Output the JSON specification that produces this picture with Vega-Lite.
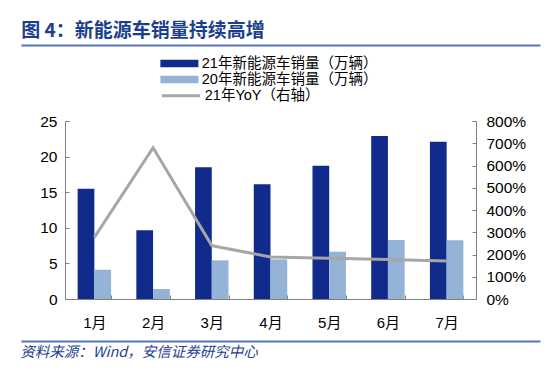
{
  "$schema": "https://vega.github.io/schema/vega-lite/v6.json",
  "padding": {"left": 18, "top": 21, "right": 13, "bottom": 5},
  "background": "white",
  "title": {"text": "图 4：新能源车销量持续高增", "anchor": "start", "fontSize": 19, "fontWeight": "bold", "color": "#1B3F8E", "font": "Noto Sans CJK SC", "offset": 2, "dx": 3},
  "spacing": 6,
  "bounds": "full",
  "align": "none",
  "columns": 1,
  "config": {"view": {"stroke": null}, "font": "Liberation Sans, Noto Sans CJK SC"},
  "datasets": {
    "bars": [
      {"month": "1月", "series": "21年新能源车销量（万辆）", "value": 15.5},
      {"month": "1月", "series": "20年新能源车销量（万辆）", "value": 4.1},
      {"month": "2月", "series": "21年新能源车销量（万辆）", "value": 9.65},
      {"month": "2月", "series": "20年新能源车销量（万辆）", "value": 1.4},
      {"month": "3月", "series": "21年新能源车销量（万辆）", "value": 18.5},
      {"month": "3月", "series": "20年新能源车销量（万辆）", "value": 5.43},
      {"month": "4月", "series": "21年新能源车销量（万辆）", "value": 16.1},
      {"month": "4月", "series": "20年新能源车销量（万辆）", "value": 5.57},
      {"month": "5月", "series": "21年新能源车销量（万辆）", "value": 18.7},
      {"month": "5月", "series": "20年新能源车销量（万辆）", "value": 6.64},
      {"month": "6月", "series": "21年新能源车销量（万辆）", "value": 22.9},
      {"month": "6月", "series": "20年新能源车销量（万辆）", "value": 8.3},
      {"month": "7月", "series": "21年新能源车销量（万辆）", "value": 22.1},
      {"month": "7月", "series": "20年新能源车销量（万辆）", "value": 8.25}
    ],
    "yoy": [
      {"month": "1月", "series": "21年YoY（右轴）", "yoy": 2.77},
      {"month": "2月", "series": "21年YoY（右轴）", "yoy": 6.8},
      {"month": "3月", "series": "21年YoY（右轴）", "yoy": 2.4},
      {"month": "4月", "series": "21年YoY（右轴）", "yoy": 1.89},
      {"month": "5月", "series": "21年YoY（右轴）", "yoy": 1.83},
      {"month": "6月", "series": "21年YoY（右轴）", "yoy": 1.78},
      {"month": "7月", "series": "21年YoY（右轴）", "yoy": 1.71}
    ]
  },
  "concat": [
    {
      "width": 475, "height": 1,
      "data": {"values": [{"a": 0}, {"a": 1}]},
      "mark": {"type": "point", "opacity": 0},
      "encoding": {
        "x": {"field": "a", "type": "quantitative", "scale": {"domain": [0, 1], "nice": false, "range": [-44, 475]}, "axis": {"orient": "top", "domainColor": "#5574B5", "domainWidth": 2, "ticks": false, "labels": false, "grid": false, "title": null}}
      }
    },
    {
      "hconcat": [
        {
          "width": 411, "height": 178,
          "layer": [
            {
              "data": {"name": "bars"},
              "mark": {"type": "bar"},
              "encoding": {
                "x": {"field": "month", "type": "nominal", "sort": ["1月","2月","3月","4月","5月","6月","7月"],
                  "scale": {"paddingInner": 0.43, "paddingOuter": 0.215},
                  "axis": {"title": null, "labelAngle": 0, "labelFontSize": 15, "labelColor": "black", "domainColor": "#7f7f7f", "tickColor": "#7f7f7f", "tickSize": -4, "tickBand": "extent", "labelPadding": 20}},
                "xOffset": {"field": "series", "type": "nominal", "sort": ["21年新能源车销量（万辆）", "20年新能源车销量（万辆）"]},
                "y": {"field": "value", "type": "quantitative", "scale": {"domain": [0, 25]},
                  "axis": {"values": [0,5,10,15,20,25], "grid": false, "labelFontSize": 15.5, "labelColor": "black", "domainColor": "#7f7f7f", "tickColor": "#7f7f7f", "tickSize": -4, "labelPadding": 12,
                    "title": "|", "titleColor": "rgba(0,0,0,0)", "titleAngle": 0, "titleX": -44, "titleY": -66, "titleAlign": "left", "titleBaseline": "top"}},
                "color": {"field": "series", "type": "nominal",
                  "scale": {"domain": ["21年新能源车销量（万辆）", "20年新能源车销量（万辆）"], "range": ["#102B8C", "#95B3D7"]},
                  "legend": {"title": null, "orient": "none", "legendX": 106.4, "legendY": 10.5, "padding": 0, "symbolType": "M-2.5,-0.5H2.5V0.5H-2.5Z", "symbolSize": 231, "symbolStrokeWidth": 0, "labelOffset": 14.4, "labelFontSize": 14.5, "labelColor": "black", "labelLimit": 0, "rowPadding": 1}}
              }
            },
            {
              "data": {"name": "yoy"},
              "mark": {"type": "line", "strokeWidth": 3},
              "encoding": {
                "x": {"field": "month", "type": "nominal", "sort": ["1月","2月","3月","4月","5月","6月","7月"]},
                "y": {"field": "yoy", "type": "quantitative", "scale": {"domain": [0, 8]},
                  "axis": {"orient": "right", "values": [0,1,2,3,4,5,6,7,8], "format": ".0%", "grid": false, "title": null, "labelFontSize": 15.5, "labelColor": "black", "domainColor": "#7f7f7f", "tickColor": "#7f7f7f", "tickSize": -4, "labelPadding": 14}},
                "stroke": {"field": "series", "type": "nominal", "scale": {"range": ["#A6A6A6"]},
                  "legend": {"title": null, "orient": "none", "legendX": 106.4, "legendY": 41.3, "padding": 0, "symbolType": "M-2.5,0H2.5", "symbolSize": 231, "symbolStrokeWidth": 3, "labelOffset": 14.4, "labelFontSize": 14.5, "labelColor": "black", "labelLimit": 0}}
              }
            }
          ],
          "resolve": {"scale": {"y": "independent"}}
        }
      ]
    },
    {
      "width": 475, "height": 3,
      "data": {"values": [{"a": 0}, {"a": 1}]},
      "mark": {"type": "point", "opacity": 0},
      "encoding": {
        "x": {"field": "a", "type": "quantitative", "scale": {"domain": [0, 1], "nice": false, "range": [-44, 475]}, "axis": {"orient": "bottom", "domainColor": "#5574B5", "domainWidth": 2, "ticks": false, "labels": false, "grid": false, "title": null}}
      },
      "title": {"text": "资料来源：Wind，安信证券研究中心", "orient": "bottom", "anchor": "start", "fontSize": 14.5, "fontStyle": "italic", "fontWeight": "normal", "color": "#1F3F8F", "font": "Noto Sans CJK SC", "offset": 4, "dx": 2}
    }
  ]
}
